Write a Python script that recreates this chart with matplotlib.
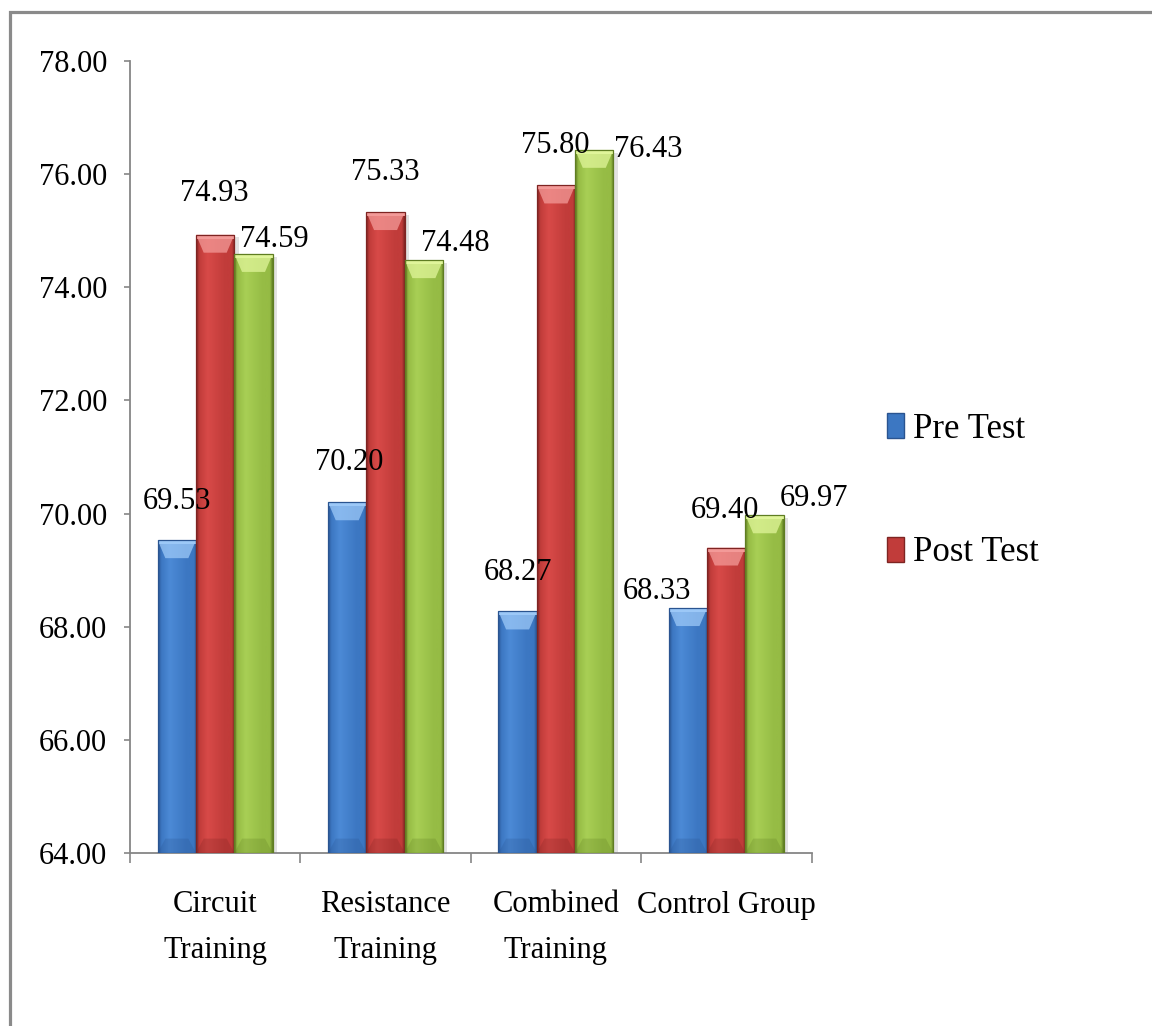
"""
Grouped bar chart of Pre/Post test scores for the four training groups,
drawn with shaded "bevelled" bars in the old office-chart style.
"""

import numpy as np
import matplotlib
matplotlib.use("Agg")
import matplotlib.pyplot as plt
import matplotlib.patches as patches
import matplotlib.patheffects as pe
from matplotlib.colors import LinearSegmentedColormap

groups = ["Circuit\nTraining", "Resistance\nTraining", "Combined\nTraining", "Control Group"]
series_names = ["Pre Test", "Post Test", "Third Test"]
pre_test = [69.53, 70.20, 68.27, 68.33]
post_test = [74.93, 75.33, 75.80, 69.40]
third_test = [74.59, 74.48, 76.43, 69.97]
y_ticks = [64, 66, 68, 70, 72, 74, 76, 78]

# (dark edge, body, highlight, bevel) colours for each series
palettes = [
    ("#2a5490", "#3c77c2", "#4c8ad6", "#9cc8f7"),
    ("#7e2422", "#c13c3a", "#d84a48", "#f39a98"),
    ("#5f7d22", "#96bc45", "#a8cf55", "#e0f59a"),
]

# value label nudges in pixels from the top centre of each bar
label_nudges = [
    [(0, 39), (2, 40), (0, 39), (-31, 17)],
    [(-1, 41), (0, 40), (-1, 40), (-1, 37)],
    [(21, 14), (31, 17), (54, 0), (49, 17)],
]

plt.rcParams['font.family'] = ['Liberation Serif', 'DejaVu Serif']

W, H = 1152, 1026
fig = plt.figure(figsize=(W/100, H/100), dpi=100)
ax = fig.add_axes([130/W, 1-853/H, (811.5-130)/W, (853-61)/H])

base = y_ticks[0]
ax.set_xlim(-0.5, len(groups)-0.5)
ax.set_ylim(base, y_ticks[-1])

# data units per pixel, used to size the bevels
upp = (y_ticks[-1]-base) / ax.bbox.height

x = np.arange(len(groups))
width = 0.225
all_series = [pre_test, post_test, third_test]
handles = []

for i, (vals, name, pal) in enumerate(zip(all_series, series_names, palettes)):
    dark, body, light, bevel = pal
    cmap = LinearSegmentedColormap.from_list(
        "shade%d" % i,
        [(0, dark), (0.08, body), (0.3, light), (0.75, body), (0.93, body), (1, dark)])
    vals = np.array(vals)
    bars = ax.bar(x+(i-1)*width, vals-base, width, bottom=base, color=body,
                  linewidth=0, zorder=2,
                  path_effects=[pe.SimplePatchShadow(offset=(3, -2), shadow_rgbFace='0.55', alpha=0.25),
                                pe.Normal()])
    handles.append(patches.Patch(facecolor=body, edgecolor=dark, lw=1, label=name))

    for j, rect in enumerate(bars):
        x0, y0 = rect.get_x(), rect.get_y()
        w, h = rect.get_width(), rect.get_height()
        top = y0 + h

        im = ax.imshow(np.linspace(0, 1, 64)[np.newaxis, :], cmap=cmap,
                       extent=(x0, x0+w, y0, top), aspect='auto',
                       interpolation='bicubic', zorder=3)
        im.set_clip_path(rect)

        # light bevel at the top of the bar
        bh = 18*upp
        ax.add_patch(patches.Polygon(
            [(x0, top), (x0+w, top), (x0+w*0.8, top-bh), (x0+w*0.2, top-bh)],
            closed=True, facecolor=bevel, alpha=0.75, lw=0, zorder=4))
        ax.add_patch(patches.Rectangle((x0, top-4*upp), w, 4*upp,
                                       facecolor=bevel, lw=0, zorder=4))
        # darker bevel at the foot
        ax.add_patch(patches.Polygon(
            [(x0, y0), (x0+w, y0), (x0+w*0.8, y0+bh*0.8), (x0+w*0.2, y0+bh*0.8)],
            closed=True, facecolor=dark, alpha=0.25, lw=0, zorder=4))
        ax.add_patch(patches.Rectangle((x0, y0), w, h, fill=False,
                                       edgecolor=dark, lw=0.9, zorder=5))

        dx, dy = label_nudges[i][j]
        ax.annotate("%.2f" % vals[j], xy=(x0+w/2, top), xytext=(dx, dy),
                    textcoords='offset pixels', ha='center', va='center',
                    fontsize=22, zorder=10)

ax.set_xlim(-0.5, len(groups)-0.5)
ax.set_ylim(base, y_ticks[-1])

# axes decoration
for side in ['top', 'right']:
    ax.spines[side].set_visible(False)
for side in ['left', 'bottom']:
    ax.spines[side].set_color('#868686')
    ax.spines[side].set_linewidth(1.3)

ax.set_yticks(y_ticks)
ax.set_yticklabels(["%.2f" % t for t in y_ticks], fontsize=22)
ax.tick_params(axis='y', direction='out', length=4.5, width=1.2, color='#868686', pad=12)

ax.set_xticks(np.arange(len(groups)+1)-0.5)
ax.set_xticklabels([])
ax.tick_params(axis='x', which='major', direction='out', length=7, width=1.2, color='#868686')
ax.set_xticks(x, minor=True)
ax.set_xticklabels(groups, minor=True, fontsize=22, linespacing=1.75)
ax.tick_params(axis='x', which='minor', length=0, pad=27)

leg = fig.legend(handles=handles[:2], loc='center left',
                 bbox_to_anchor=(887/W, 1-491/H), frameon=False,
                 fontsize=25, handlelength=0.49, handleheight=0.72,
                 handletextpad=0.25, labelspacing=2.62, borderpad=0,
                 borderaxespad=0)

# grey frame round the chart area (runs off the right and bottom)
fig.add_artist(patches.Rectangle((9.5/W, -0.05), 1.1, 1-11.5/H+0.05,
                                 transform=fig.transFigure, fill=False,
                                 edgecolor='#8a8a8a', lw=2.3, clip_on=False))

fig.savefig("out.png", dpi=100)
